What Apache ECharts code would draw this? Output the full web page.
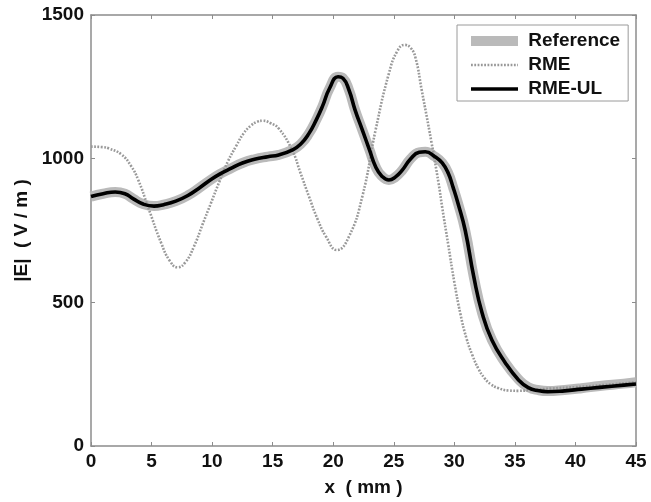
<!DOCTYPE html>
<html>
<head>
<meta charset="utf-8">
<script src="https://cdn.jsdelivr.net/npm/echarts@6/dist/echarts.min.js"></script>
<style>
  html, body { margin: 0; padding: 0; background: #fff; }
  #chart { width: 651px; height: 502px; }
</style>
</head>
<body>
<div id="chart"></div>
<script>
// Field magnitude |E| (V/m) along x (mm)
const referenceX = [0, 1, 2, 2.8, 3.5, 4.3, 5.2, 6, 7, 8, 9, 10, 10.7, 11.5, 12.5, 13.5, 14.6, 15.5, 16.6, 17.3, 18, 18.6, 19.1, 19.7, 20.4, 20.8, 21.3, 21.8, 22.4, 23, 23.5, 24, 24.6, 25.1, 25.7, 26.4, 27.1, 27.6, 28.4, 29, 29.5, 29.9, 30.3, 30.9, 31.6, 32.3, 33.1, 34.2, 35.3, 36.1, 37, 37.7, 39.1, 40.5, 42, 44, 45];
const referenceE = [868, 878, 884, 878, 860, 842, 835, 840, 852, 872, 900, 930, 948, 965, 985, 998, 1007, 1013, 1030, 1050, 1088, 1135, 1181, 1245, 1285, 1280, 1239, 1170, 1100, 1030, 972, 940, 926, 935, 960, 1000, 1022, 1024, 1007, 985, 949, 900, 845, 750, 590, 462, 369, 290, 232, 205, 194, 191, 195, 201, 209, 217, 222];

const rmeX = [0, 1, 1.5, 2.5, 3.3, 3.9, 4.7, 5.8, 6.5, 7.15, 7.8, 8.5, 9.2, 9.9, 10.6, 11.3, 12, 12.6, 13.2, 13.7, 14.2, 14.8, 15.5, 16.6, 17.3, 18, 18.7, 19.4, 20.3, 21.3, 22.4, 23.5, 24.6, 25.3, 25.9, 26.4, 26.8, 27.3, 28.1, 28.7, 29, 29.5, 30, 30.5, 31, 31.5, 32, 32.5, 33, 33.6, 34.5, 35.3, 36.4, 38, 40, 42, 45];
const rmeE = [1042, 1040, 1035, 1015, 975, 926, 833, 706, 645, 622, 640, 694, 770, 845, 920, 990, 1045, 1088, 1115, 1128, 1132, 1124, 1105, 1030, 950, 868, 790, 729, 682, 729, 868, 1100, 1297, 1375, 1396, 1385, 1350, 1240, 1060, 914, 830, 700, 570, 460, 375, 315, 268, 236, 215, 202, 193, 192, 195, 200, 205, 211, 222];

const rmeUlX = [0, 1, 2, 2.8, 3.5, 4.3, 5.2, 6, 7, 8, 9, 10, 10.7, 11.5, 12.5, 13.5, 14.6, 15.5, 16.6, 17.3, 18, 18.6, 19.1, 19.7, 20.4, 20.8, 21.3, 21.8, 22.4, 23, 23.5, 24, 24.6, 25.1, 25.7, 26.4, 27.1, 27.6, 28.4, 29, 29.5, 29.9, 30.3, 30.9, 31.6, 32.3, 33.1, 34.2, 35.3, 36.1, 37, 37.7, 39.1, 40.5, 42, 44, 45];
const rmeUlE = [868, 878, 884, 878, 860, 842, 835, 840, 852, 872, 900, 930, 948, 965, 985, 998, 1007, 1013, 1030, 1050, 1088, 1135, 1181, 1245, 1285, 1280, 1239, 1170, 1100, 1030, 972, 940, 926, 935, 960, 1000, 1022, 1024, 1007, 985, 949, 900, 845, 750, 590, 462, 369, 290, 230, 203, 192, 189, 192, 198, 204, 212, 216];

const xTicks = { min: 0, max: 45, step: 5 };
const yTicks = { min: 0, max: 1500, step: 500 };

const seriesNames = ['Reference', 'RME', 'RME-UL'];

const pairs = (xs, ys) => xs.map((x, i) => [x, ys[i]]);

const FONT = 'Liberation Sans, Arial, sans-serif';
const AXIS_GRAY = '#8c8c8c';

const frameAxis = (extra) => Object.assign({
  type: 'value',
  splitLine: { show: false },
  axisLine: { show: true, onZero: false, lineStyle: { color: AXIS_GRAY, width: 1.5 } },
  axisTick: { show: true, inside: true, length: 4, lineStyle: { color: AXIS_GRAY, width: 1 } }
}, extra);

const plainNumber = (v) => String(v);

const chart = echarts.init(document.getElementById('chart'), null, { renderer: 'canvas' });

chart.setOption({
  backgroundColor: '#ffffff',
  animation: false,
  grid: { left: 91, right: 15, top: 15, bottom: 56, containLabel: false },
  xAxis: [
    frameAxis({
      position: 'bottom',
      min: xTicks.min, max: xTicks.max, interval: xTicks.step,
      name: 'x  ( mm )',
      nameLocation: 'middle',
      nameGap: 32,
      nameTextStyle: { fontFamily: FONT, fontWeight: 'bold', fontSize: 19, color: '#111' },
      axisLabel: { margin: 6, formatter: plainNumber, fontFamily: FONT, fontWeight: 'bold', fontSize: 19, color: '#111' }
    }),
    frameAxis({
      position: 'top',
      min: xTicks.min, max: xTicks.max, interval: xTicks.step,
      axisLabel: { show: false }
    })
  ],
  yAxis: [
    frameAxis({
      position: 'left',
      min: yTicks.min, max: yTicks.max, interval: yTicks.step,
      name: '|E|  ( V / m )',
      nameLocation: 'middle',
      nameGap: 54,
      nameRotate: 90,
      nameTextStyle: { fontFamily: FONT, fontWeight: 'bold', fontSize: 19, color: '#111' },
      axisLabel: { margin: 7, formatter: plainNumber, fontFamily: FONT, fontWeight: 'bold', fontSize: 19, color: '#111' }
    }),
    frameAxis({
      position: 'right',
      min: yTicks.min, max: yTicks.max, interval: yTicks.step,
      axisLabel: { show: false }
    })
  ],
  legend: {
    orient: 'vertical',
    left: 457,
    top: 25,
    padding: [6, 8, 2, 9],
    itemWidth: 47,
    itemHeight: 10,
    itemGap: 4,
    backgroundColor: '#ffffff',
    borderColor: '#9a9a9a',
    borderWidth: 1,
    borderRadius: 0,
    itemStyle: { opacity: 0 },
    lineStyle: { width: 'inherit' },
    formatter: (name) => ' ' + name,
    textStyle: { fontFamily: FONT, fontWeight: 'bold', fontSize: 19, lineHeight: 20, color: '#111' },
    data: seriesNames
  },
  series: [
    {
      name: seriesNames[0],
      type: 'line',
      data: pairs(referenceX, referenceE),
      smooth: 0.5,
      symbol: 'none',
      itemStyle: { color: '#bababa' },
      lineStyle: { color: '#bababa', width: 10, cap: 'butt', join: 'round' },
      z: 2
    },
    {
      name: seriesNames[1],
      type: 'line',
      data: pairs(rmeX, rmeE),
      smooth: 0.5,
      symbol: 'none',
      itemStyle: { color: '#999999' },
      lineStyle: { color: '#999999', width: 2.6, type: [1.8, 1.5] },
      z: 3
    },
    {
      name: seriesNames[2],
      type: 'line',
      data: pairs(rmeUlX, rmeUlE),
      smooth: 0.5,
      symbol: 'none',
      itemStyle: { color: '#000000' },
      lineStyle: { color: '#000000', width: 3.6, join: 'round' },
      z: 4
    }
  ]
});
</script>
</body>
</html>
